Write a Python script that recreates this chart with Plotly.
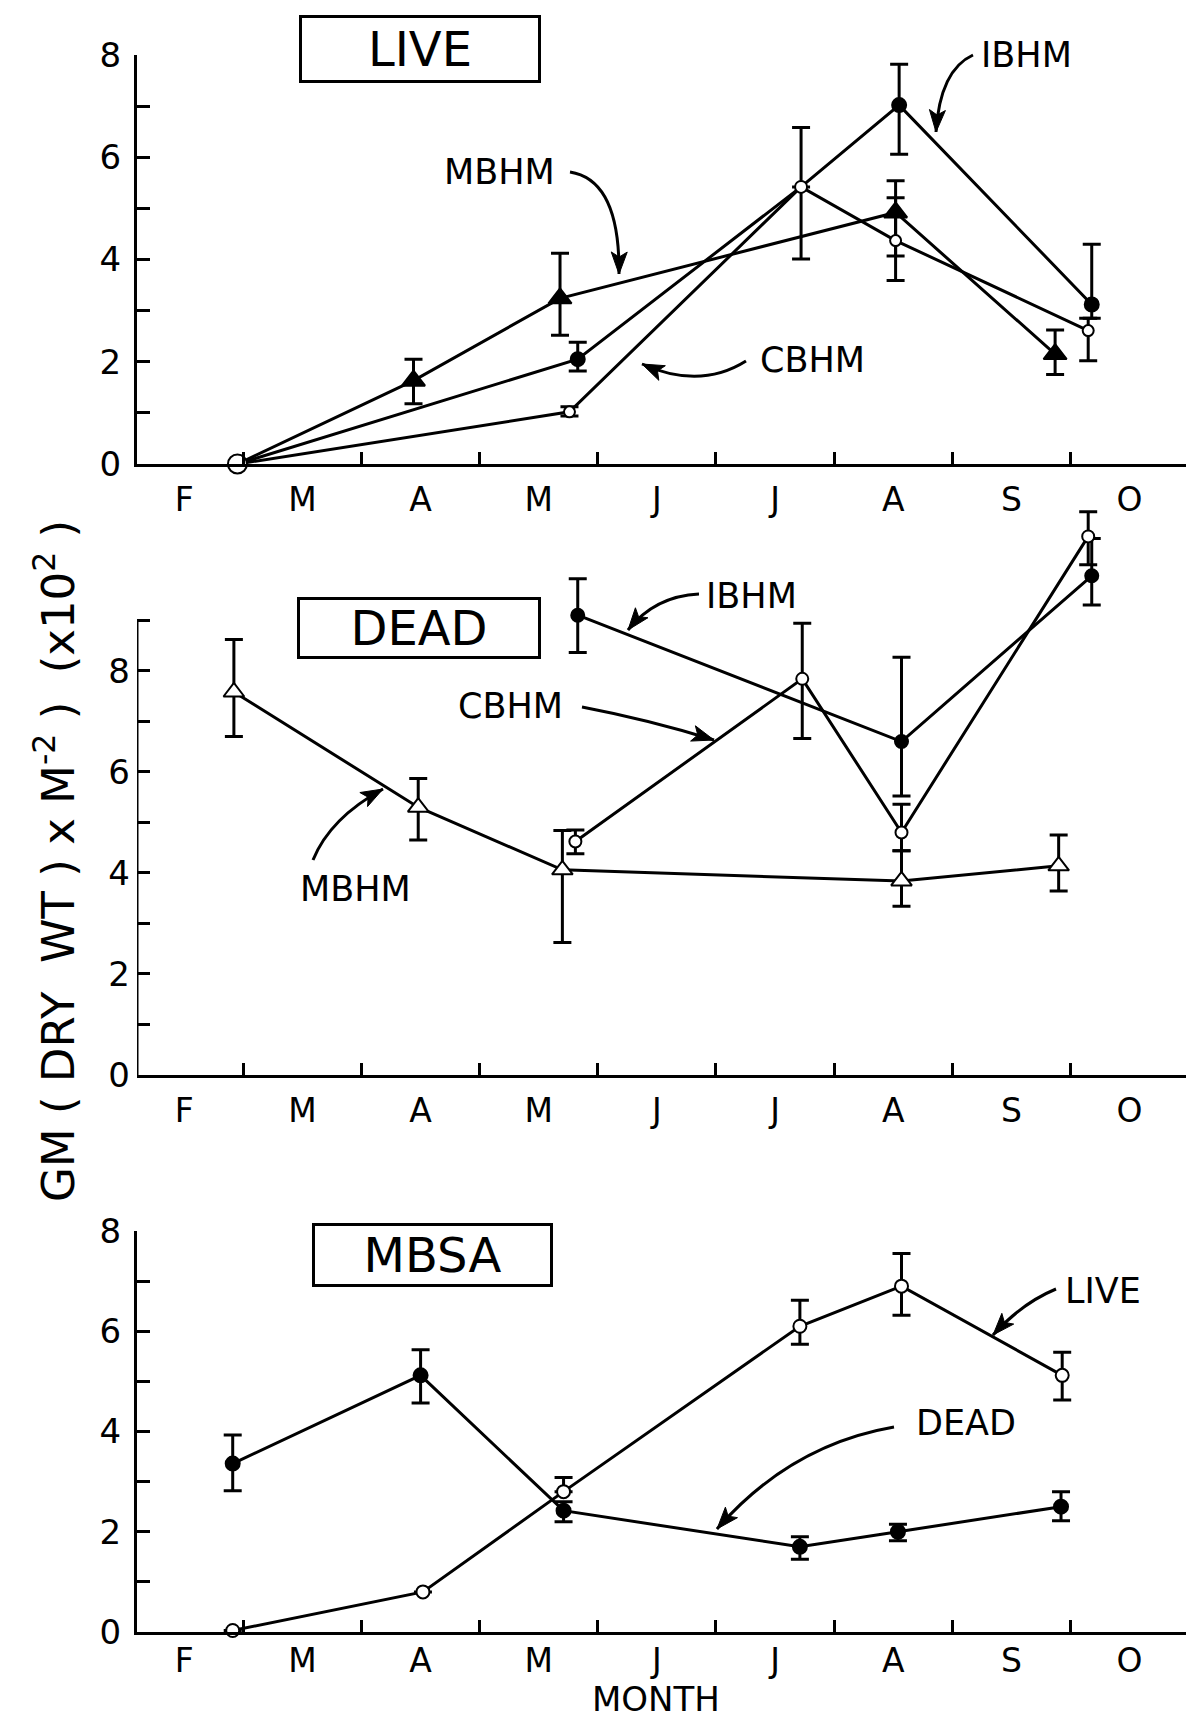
import plotly.graph_objects as go

W, H = 1194, 1721
OFF = 8  # page body margin shifts the figure by this many px
FONT = 'DejaVu Sans'

# month axis: x = months after 1 Feb
month_labels = ['F', 'M', 'A', 'M', 'J', 'J', 'A', 'S', 'O']
month_centres = [0.5, 1.5, 2.5, 3.5, 4.5, 5.5, 6.5, 7.5, 8.5]
month_bounds = [1, 2, 3, 4, 5, 6, 7, 8, 9]

# ---- LIVE panel ----
live_mbhm_x = [0.95, 2.44, 3.68, 6.52, 7.87]
live_mbhm_y = [0, 1.63, 3.24, 4.92, 2.15]
live_mbhm_hi = [None, 2.05, 4.12, 5.54, 2.62]
live_mbhm_lo = [None, 1.18, 2.52, 4.07, 1.75]

live_ibhm_x = [0.95, 3.83, 5.72, 6.55, 8.18]
live_ibhm_y = [0, 2.05, 5.42, 7.02, 3.12]
live_ibhm_hi = [None, 2.38, None, 7.82, 4.30]
live_ibhm_lo = [None, 1.82, None, 6.06, 2.85]

live_cbhm_x = [0.95, 3.76, 5.72, 6.52, 8.15]
live_cbhm_y = [0, 1.02, 5.42, 4.37, 2.61]
live_cbhm_hi = [None, 1.12, 6.58, 5.21, 2.85]
live_cbhm_lo = [None, 0.94, 4.01, 3.59, 2.02]

# ---- DEAD panel ----
dead_mbhm_x = [0.92, 2.48, 3.70, 6.57, 7.90]
dead_mbhm_y = [7.58, 5.30, 4.06, 3.84, 4.14]
dead_mbhm_hi = [8.62, 5.87, 4.84, 4.44, 4.75]
dead_mbhm_lo = [6.70, 4.65, 2.62, 3.34, 3.64]

dead_cbhm_x = [3.81, 5.73, 6.57, 8.15]
dead_cbhm_y = [4.62, 7.84, 4.80, 10.66]
dead_cbhm_hi = [4.85, 8.94, 5.36, 11.15]
dead_cbhm_lo = [4.38, 6.66, 4.44, 10.1]

dead_ibhm_x = [3.83, 6.57, 8.18]
dead_ibhm_y = [9.10, 6.60, 9.88]
dead_ibhm_hi = [9.82, 8.27, 10.62]
dead_ibhm_lo = [8.36, 5.52, 9.30]

# ---- MBSA panel ----
mbsa_live_x = [0.91, 2.52, 3.71, 5.71, 6.57, 7.93]
mbsa_live_y = [0.03, 0.80, 2.80, 6.10, 6.90, 5.12]
mbsa_live_hi = [None, None, 3.08, 6.62, 7.55, 5.58]
mbsa_live_lo = [None, None, None, 5.74, 6.32, 4.63]

mbsa_dead_x = [0.91, 2.50, 3.71, 5.71, 6.54, 7.92]
mbsa_dead_y = [3.36, 5.12, 2.42, 1.70, 2.00, 2.50]
mbsa_dead_hi = [3.93, 5.63, 2.60, 1.90, 2.15, 2.80]
mbsa_dead_lo = [2.82, 4.57, 2.20, 1.45, 1.82, 2.22]


def errs(y, hi, lo):
    plus = [None if h is None else round(h - v, 3) for v, h in zip(y, hi)]
    minus = [None if l is None else round(v - l, 3) for v, l in zip(y, lo)]
    return plus, minus


def series(x, y, hi, lo, xa, ya, symbol, size, fill, lw=2):
    plus, minus = errs(y, hi, lo)
    return go.Scatter(
        x=x, y=y, xaxis=xa, yaxis=ya, mode='lines+markers',
        line=dict(color='black', width=3),
        marker=dict(symbol=symbol, size=size, color=fill, opacity=1,
                    line=dict(color='black', width=lw)),
        error_y=dict(type='data', array=plus, arrayminus=minus, symmetric=False,
                     color='black', thickness=3, width=9),
        cliponaxis=False, hoverinfo='x+y'
    )


def px(v):
    return (v - OFF) / W


def py(v):
    return 1 - (v - OFF) / H


fig = go.Figure()

# LIVE
fig.add_trace(series(live_mbhm_x, live_mbhm_y, live_mbhm_hi, live_mbhm_lo, 'x', 'y',
                     'triangle-up', [0, 20, 20, 20, 20], 'black'))
fig.add_trace(series(live_ibhm_x, live_ibhm_y, live_ibhm_hi, live_ibhm_lo, 'x', 'y',
                     'circle', [0, 14, 0, 14, 14], 'black'))
fig.add_trace(series(live_cbhm_x, live_cbhm_y, live_cbhm_hi, live_cbhm_lo, 'x', 'y',
                     'circle', [19, 11, 12, 11, 11], 'white'))
# DEAD
fig.add_trace(series(dead_mbhm_x, dead_mbhm_y, dead_mbhm_hi, dead_mbhm_lo, 'x2', 'y2',
                     'triangle-up', 18, 'white'))
fig.add_trace(series(dead_ibhm_x, dead_ibhm_y, dead_ibhm_hi, dead_ibhm_lo, 'x2', 'y2',
                     'circle', 13, 'black'))
fig.add_trace(series(dead_cbhm_x, dead_cbhm_y, dead_cbhm_hi, dead_cbhm_lo, 'x2', 'y2',
                     'circle', 12, 'white'))
# MBSA
fig.add_trace(series(mbsa_dead_x, mbsa_dead_y, mbsa_dead_hi, mbsa_dead_lo, 'x3', 'y3',
                     'circle', 14, 'black'))
fig.add_trace(series(mbsa_live_x, mbsa_live_y, mbsa_live_hi, mbsa_live_lo, 'x3', 'y3',
                     'circle', 13, 'white'))

x_dom = [px(137), px(1191)]
x_rng = [0.1, 9.02]


def xaxis(anchor, standoff=4):
    return dict(domain=x_dom, range=x_rng, anchor=anchor, showgrid=False, zeroline=False,
                automargin=False,
                showline=True, linecolor='black', linewidth=3,
                tickmode='array', tickvals=month_centres, ticktext=month_labels, ticks='',
                tickfont=dict(family=FONT, size=33, color='black'), ticklabelstandoff=standoff,
                minor=dict(tickmode='array', tickvals=month_bounds, ticks='inside',
                           ticklen=12, tickwidth=3, tickcolor='black'))


def yaxis(anchor, dom, rng, top, line=True):
    even = list(range(0, top + 1, 2))
    odd = list(range(1, top + 1, 2))
    return dict(domain=dom, range=rng, anchor=anchor, showgrid=False, zeroline=False,
                automargin=False,
                showline=line, linecolor='black', linewidth=3,
                tickmode='array', tickvals=even, ticktext=[str(v) for v in even],
                ticks='inside', ticklen=13, tickwidth=3, tickcolor='black',
                minor=dict(tickmode='array', tickvals=odd, ticks='inside',
                           ticklen=13, tickwidth=3, tickcolor='black'),
                tickfont=dict(family=FONT, size=34, color='black'), ticklabelstandoff=6)


fig.update_layout(
    width=W, height=H, margin=dict(l=0, r=0, t=0, b=0, pad=0, autoexpand=False),
    paper_bgcolor='white', plot_bgcolor='white', showlegend=False,
    xaxis=xaxis('y'), xaxis2=xaxis('y2'), xaxis3=xaxis('y3', standoff=-3),
    yaxis=yaxis('x', [py(464), py(55)], [0, 8], 8),
    yaxis2=yaxis('x2', [py(1075), py(499)], [0, 11.4], 9, line=False),
    yaxis3=yaxis('x3', [py(1632), py(1231)], [0, 8], 8),
)

# DEAD y axis line stops at 9
fig.add_shape(type='line', xref='x2', yref='y2', x0=0.1, x1=0.1, y0=0, y1=9,
              line=dict(color='black', width=3))

# panel title boxes (centre x, centre y, w, h in px)
boxes = [('LIVE', 420, 49, 236, 62), ('DEAD', 419, 628, 238, 56), ('MBSA', 432, 1255, 235, 58)]
for txt, cx, cy, bw, bh in boxes:
    fig.add_annotation(text=txt, xref='paper', yref='paper', x=px(cx), y=py(cy),
                       showarrow=False, xanchor='center', yanchor='middle',
                       width=bw, height=bh, borderpad=0, bordercolor='black', borderwidth=3,
                       bgcolor='white', font=dict(family=FONT, size=48, color='black'))

# labels with curved arrows: text, text centre, arrow start, control, end (px)
labels = [
    ('MBHM', (499, 172), (570, 172), (620, 180), (619, 274)),
    ('IBHM', (1026, 55), (973, 55), (940, 70), (936, 132)),
    ('CBHM', (812, 360), (746, 361), (700, 390), (642, 364)),
    ('IBHM', (751, 596), (699, 594), (655, 596), (628, 630)),
    ('CBHM', (511, 706), (582, 707), (650, 720), (714, 740)),
    ('MBHM', (355, 889), (313, 860), (330, 818), (383, 789)),
    ('LIVE', (1103, 1291), (1056, 1289), (1022, 1303), (993, 1335)),
    ('DEAD', (966, 1423), (894, 1427), (790, 1445), (717, 1529)),
]
for txt, (tx, ty), (sx, sy), (cx, cy), (ex, ey) in labels:
    fig.add_annotation(text=txt, xref='paper', yref='paper', x=px(tx), y=py(ty),
                       showarrow=False, xanchor='center', yanchor='middle',
                       font=dict(family=FONT, size=35, color='black'))
    fig.add_shape(type='path', xref='paper', yref='paper',
                  path=f'M {px(sx)},{py(sy)} Q {px(cx)},{py(cy)} {px(ex)},{py(ey)}',
                  line=dict(color='black', width=3))
    # filled arrowhead along the end tangent
    dx, dy = ex - cx, ey - cy
    n = (dx * dx + dy * dy) ** 0.5
    ux, uy = dx / n, dy / n
    bx, by = ex - ux * 22, ey - uy * 22
    p1 = (bx - uy * 8, by + ux * 8)
    p2 = (bx + uy * 8, by - ux * 8)
    fig.add_shape(type='path', xref='paper', yref='paper',
                  path=(f'M {px(ex)},{py(ey)} L {px(p1[0])},{py(p1[1])} '
                        f'L {px(bx + ux * 5)},{py(by + uy * 5)} L {px(p2[0])},{py(p2[1])} Z'),
                  fillcolor='black', line=dict(color='black', width=1))

# axis titles
fig.add_annotation(text='GM ( DRY  WT ) x M<sup>-2</sup> )  (x10<sup>2</sup> )',
                   xref='paper', yref='paper', x=px(55), y=py(861), textangle=-90,
                   showarrow=False, xanchor='center', yanchor='middle',
                   font=dict(family=FONT, size=45, color='black'))
fig.add_annotation(text='MONTH', xref='paper', yref='paper', x=px(656), y=py(1699),
                   showarrow=False, xanchor='center', yanchor='middle',
                   font=dict(family=FONT, size=34, color='black'))

fig.write_html('out.html')
